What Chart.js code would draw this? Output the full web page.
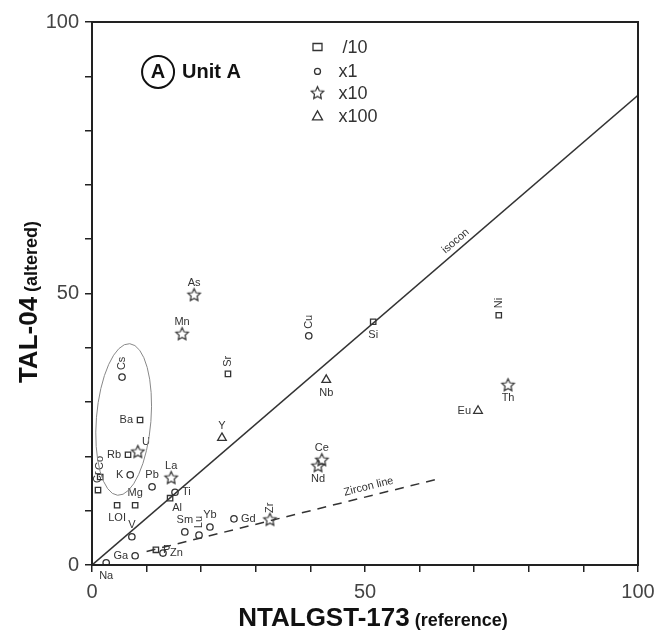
<!DOCTYPE html>
<html>
<head>
<meta charset="utf-8">
<script src="https://cdn.jsdelivr.net/npm/chart.js@4.4.1/dist/chart.umd.min.js"></script>
<style>
  html, body { margin: 0; padding: 0; background: #fff; }
  #wrap { width: 660px; height: 637px; }
</style>
</head>
<body>
<div id="wrap"><canvas id="myChart" width="660" height="637"></canvas></div>
<script>
// element data (reference vs altered, scaled)
const squareLabels = ['Ba', 'Rb', 'Sr', 'Ni', 'Al', 'Mg', 'LOI', 'Co', 'Cr', 'P', 'Si'];
const squareX = [8.8, 6.6, 24.9, 74.5, 14.3, 7.9, 4.6, 1.5, 1.1, 11.7, 51.5];
const squareY = [26.7, 20.3, 35.2, 46.0, 12.3, 11.0, 11.0, 16.2, 13.8, 2.8, 44.8];

const circleLabels = ['Cs', 'Cu', 'Gd', 'Yb', 'Sm', 'Lu', 'Ti', 'Pb', 'K', 'V', 'Ga', 'Zn', 'Na'];
const circleX = [5.5, 39.7, 26.0, 21.6, 17.0, 19.6, 15.2, 11.0, 7.0, 7.3, 7.9, 13.0, 2.6];
const circleY = [34.6, 42.2, 8.5, 7.0, 6.1, 5.5, 13.4, 14.4, 16.6, 5.2, 1.7, 2.2, 0.4];

const starLabels = ['As', 'Mn', 'U', 'La', 'Ce', 'Nd', 'Th', 'Zr'];
const starX = [18.7, 16.5, 8.4, 14.5, 42.1, 41.4, 76.2, 32.6];
const starY = [49.7, 42.5, 20.8, 16.0, 19.3, 18.2, 33.1, 8.3];

const triangleLabels = ['Nb', 'Y', 'Eu'];
const triangleX = [42.9, 23.8, 70.7];
const triangleY = [34.1, 23.4, 28.4];

const isoconX = [0, 100];
const isoconY = [0, 86.5];
const zirconX = [10, 64];
const zirconY = [2.5, 16];

const xTicks = [0, 50, 100];
const yTicks = [0, 50, 100];
const legendNames = ['/10', 'x1', 'x10', 'x100'];

// where each label sits next to its marker
const labelPos = {
  Ba: 'l', Rb: 'l', Sr: 'ra', Ni: 'ra', Al: 'br', Mg: 'a', LOI: 'b', Co: 'ra', Cr: 'ra', P: 'r', Si: 'b',
  Cs: 'ra', Cu: 'ra', Gd: 'r', Yb: 'a', Sm: 'a', Lu: 'ra', Ti: 'r', Pb: 'a', K: 'l', V: 'a', Ga: 'l', Zn: 'r', Na: 'b',
  As: 'a', Mn: 'a', U: 'ar', La: 'a', Ce: 'a', Nd: 'b', Th: 'b', Zr: 'ra',
  Nb: 'b', Y: 'a', Eu: 'l'
};

const FONT = '"Liberation Sans", Arial, sans-serif';

function toPts(xs, ys) { return xs.map((x, i) => ({ x: x, y: ys[i] })); }

function makeStar(r) {
  const c = document.createElement('canvas');
  const s = Math.ceil(2 * r + 4);
  c.width = s; c.height = s;
  const g = c.getContext('2d');
  g.beginPath();
  for (let i = 0; i < 10; i++) {
    const a = -Math.PI / 2 + i * Math.PI / 5;
    const rr = i % 2 ? r * 0.48 : r;
    g.lineTo(s / 2 + rr * Math.cos(a), s / 2 + rr * Math.sin(a));
  }
  g.closePath();
  g.strokeStyle = '#333';
  g.lineWidth = 1.2;
  g.stroke();
  return c;
}
const starImg = makeStar(6.5);

const ink = '#333';
const markerBase = { borderColor: ink, backgroundColor: 'rgba(255,255,255,0)', borderWidth: 1.3, showLine: false };

const labelsPlugin = {
  id: 'labels',
  afterDatasetsDraw(chart) {
    const ctx = chart.ctx;
    ctx.save();
    ctx.fillStyle = ink;
    ctx.font = '11px ' + FONT;
    ctx.textAlign = 'center';
    ctx.textBaseline = 'middle';
    chart.data.datasets.forEach((ds, di) => {
      if (!ds.names) return;
      const meta = chart.getDatasetMeta(di);
      meta.data.forEach((pt, i) => {
        const name = ds.names[i];
        const pos = labelPos[name] || 'a';
        let x = pt.x, y = pt.y, rot = 0;
        const w = ctx.measureText(name).width;
        if (pos === 'a') y -= 12;
        else if (pos === 'b') y += 13;
        else if (pos === 'l') x -= w / 2 + 7;
        else if (pos === 'r') x += w / 2 + 7;
        else if (pos === 'br') { x += 7; y += 10; }
        else if (pos === 'ar') { x += 8; y -= 10; }
        else if (pos === 'ra') { y -= w / 2 + 7; rot = -Math.PI / 2; }
        ctx.save();
        ctx.translate(x, y);
        ctx.rotate(rot);
        ctx.fillText(name, 0, 0);
        ctx.restore();
      });
    });
    ctx.restore();
  }
};

const decorPlugin = {
  id: 'decor',
  afterDraw(chart) {
    const ctx = chart.ctx;
    const a = chart.chartArea;
    const xs = chart.scales.x, ys = chart.scales.y;
    ctx.save();
    // frame
    ctx.strokeStyle = '#222';
    ctx.lineWidth = 2;
    ctx.strokeRect(a.left, a.top, a.right - a.left, a.bottom - a.top);

    // ellipse around the mobile group
    ctx.strokeStyle = '#888';
    ctx.lineWidth = 1;
    ctx.beginPath();
    ctx.ellipse(xs.getPixelForValue(5.8), ys.getPixelForValue(26.8),
      xs.getPixelForValue(5) - xs.getPixelForValue(0),
      ys.getPixelForValue(0) - ys.getPixelForValue(14), 0.08, 0, Math.PI * 2);
    ctx.stroke();

    // line labels
    ctx.fillStyle = ink;
    ctx.font = '11px ' + FONT;
    ctx.textAlign = 'center';
    ctx.textBaseline = 'bottom';
    const isoAng = Math.atan2(ys.getPixelForValue(isoconY[1]) - ys.getPixelForValue(isoconY[0]),
      xs.getPixelForValue(isoconX[1]) - xs.getPixelForValue(isoconX[0]));
    ctx.save();
    ctx.translate(xs.getPixelForValue(67.5), ys.getPixelForValue(58.6));
    ctx.rotate(isoAng);
    ctx.fillText('isocon', 0, -2);
    ctx.restore();
    const zrAng = Math.atan2(ys.getPixelForValue(zirconY[1]) - ys.getPixelForValue(zirconY[0]),
      xs.getPixelForValue(zirconX[1]) - xs.getPixelForValue(zirconX[0]));
    ctx.save();
    ctx.translate(xs.getPixelForValue(51), ys.getPixelForValue(13.1));
    ctx.rotate(zrAng);
    ctx.fillText('Zircon line', 0, -2);
    ctx.restore();

    // Unit A badge
    const ux = xs.getPixelForValue(12.1), uy = ys.getPixelForValue(90.8);
    ctx.strokeStyle = '#111';
    ctx.lineWidth = 2;
    ctx.beginPath();
    ctx.arc(ux, uy, 16, 0, Math.PI * 2);
    ctx.stroke();
    ctx.fillStyle = '#111';
    ctx.textAlign = 'center';
    ctx.textBaseline = 'middle';
    ctx.font = 'bold 20px ' + FONT;
    ctx.fillText('A', ux, uy + 1);
    ctx.textAlign = 'left';
    ctx.fillText('Unit A', ux + 24, uy + 1);

    // legend of scaling factors
    const lx = xs.getPixelForValue(41.3);
    const rows = [95.4, 90.9, 86.9, 82.7];
    ctx.font = '18px ' + FONT;
    ctx.fillStyle = ink;
    ctx.strokeStyle = ink;
    ctx.lineWidth = 1.3;
    rows.forEach((rv, i) => {
      const ly = ys.getPixelForValue(rv);
      ctx.beginPath();
      if (i === 0) ctx.rect(lx - 4.5, ly - 3.5, 9, 7);
      else if (i === 1) ctx.arc(lx, ly, 3, 0, Math.PI * 2);
      else if (i === 3) { ctx.moveTo(lx, ly - 5); ctx.lineTo(lx + 5, ly + 4); ctx.lineTo(lx - 5, ly + 4); ctx.closePath(); }
      if (i === 2) ctx.drawImage(starImg, lx - starImg.width / 2, ly - starImg.height / 2);
      else ctx.stroke();
      ctx.fillText(legendNames[i], lx + (i === 0 ? 25 : 21), ly + 1);
    });

    // axis titles
    ctx.fillStyle = '#111';
    ctx.textBaseline = 'middle';
    const big = 'bold 26px ' + FONT, small = 'bold 18px ' + FONT;
    const tMain = 'NTALGST-173', tSub = ' (reference)';
    ctx.font = big;
    const w1 = ctx.measureText(tMain).width;
    ctx.font = small;
    const w2 = ctx.measureText(tSub).width;
    let sx = (a.left + a.right) / 2 + 8 - (w1 + w2) / 2;
    ctx.textAlign = 'left';
    ctx.font = big;
    ctx.fillText(tMain, sx, 619);
    ctx.font = small;
    ctx.fillText(tSub, sx + w1, 621);

    const yMain = 'TAL-04', ySub = ' (altered)';
    ctx.font = big;
    const v1 = ctx.measureText(yMain).width;
    ctx.font = small;
    const v2 = ctx.measureText(ySub).width;
    ctx.save();
    ctx.translate(30, 302);
    ctx.rotate(-Math.PI / 2);
    const sy = -(v1 + v2) / 2;
    ctx.font = big;
    ctx.fillText(yMain, sy, 0);
    ctx.font = small;
    ctx.fillText(ySub, sy + v1, 2);
    ctx.restore();
    ctx.restore();
  }
};

const tickCb = (list) => (v) => (list.includes(v) ? String(v) : '');

new Chart(document.getElementById('myChart'), {
  type: 'scatter',
  data: {
    datasets: [
      { label: 'isocon', data: toPts(isoconX, isoconY), showLine: true, borderColor: ink, borderWidth: 1.6, pointRadius: 0 },
      { label: 'Zircon line', data: toPts(zirconX, zirconY), showLine: true, borderColor: ink, borderWidth: 1.5, borderDash: [9, 7], pointRadius: 0 },
      Object.assign({ label: '/10', names: squareLabels, data: toPts(squareX, squareY), pointStyle: 'rect', pointRadius: 3.8 }, markerBase),
      Object.assign({ label: 'x1', names: circleLabels, data: toPts(circleX, circleY), pointStyle: 'circle', pointRadius: 3.2 }, markerBase),
      Object.assign({ label: 'x10', names: starLabels, data: toPts(starX, starY), pointStyle: starImg, pointRadius: 6 }, markerBase),
      Object.assign({ label: 'x100', names: triangleLabels, data: toPts(triangleX, triangleY), pointStyle: 'triangle', pointRadius: 5 }, markerBase)
    ]
  },
  options: {
    responsive: false,
    animation: false,
    layout: { padding: { top: 22, right: 22, left: 0, bottom: 0 } },
    plugins: { legend: { display: false }, tooltip: { enabled: false } },
    scales: {
      x: {
        type: 'linear', min: 0, max: 100,
        afterFit: (s) => { s.height = 72; s.paddingLeft = 0; s.paddingRight = 0; },
        ticks: { stepSize: 10, autoSkip: false, maxRotation: 0, color: '#444', padding: 8,
          font: { size: 20, family: FONT }, callback: tickCb(xTicks) },
        grid: { drawOnChartArea: false, drawTicks: true, tickLength: 7, color: '#222', lineWidth: 1.5 },
        border: { color: '#222', width: 2 }
      },
      y: {
        type: 'linear', min: 0, max: 100,
        afterFit: (s) => { s.width = 92; s.paddingTop = 0; s.paddingBottom = 0; },
        ticks: { stepSize: 10, autoSkip: false, color: '#444', padding: 6,
          font: { size: 20, family: FONT }, callback: tickCb(yTicks) },
        grid: { drawOnChartArea: false, drawTicks: true, tickLength: 7, color: '#222', lineWidth: 1.5 },
        border: { color: '#222', width: 2 }
      }
    }
  },
  plugins: [labelsPlugin, decorPlugin]
});
</script>
</body>
</html>
